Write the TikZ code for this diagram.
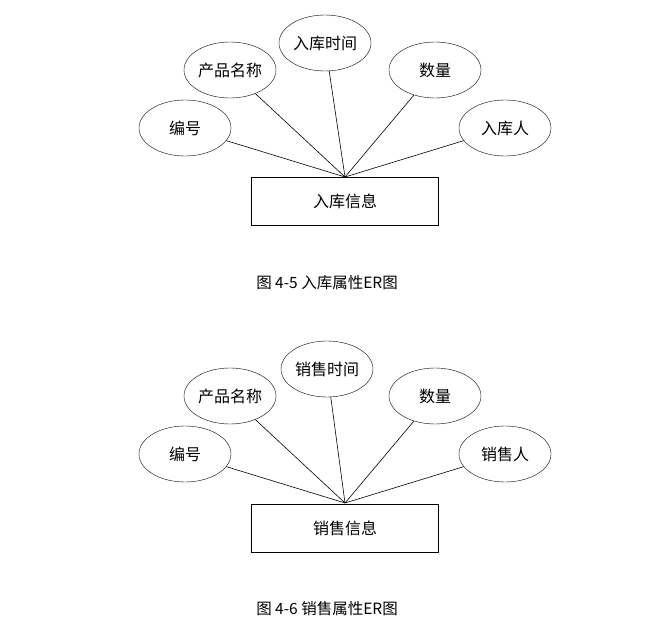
\documentclass[tikz,border=0pt]{standalone}
\usepackage{fontspec}
\setmainfont{Noto Sans CJK SC}
\usetikzlibrary{shapes.geometric}
\begin{document}
\begin{tikzpicture}[x=1pt,y=-1pt,
  attr/.style={ellipse,draw,minimum width=92pt,minimum height=56pt,inner sep=0pt,font=\fontsize{16}{19}\selectfont},
  ent/.style={rectangle,draw,minimum width=187pt,minimum height=48pt,font=\fontsize{16}{19}\selectfont},
  captxt/.style={font=\fontsize{15.5}{18}\selectfont},
  link/.style={draw,line width=0.6pt}]
\useasboundingbox (0,0) rectangle (662,634);
\node[ent] (r1) at (345,201) {入库信息};
\coordinate (c1) at (345,177);
\node[attr] (a1) at (185,128) {编号};
\node[attr] (a2) at (230,70) {产品名称};
\node[attr] (a3) at (325,43) {入库时间};
\node[attr] (a4) at (435,70) {数量};
\node[attr] (a5) at (505,128) {入库人};
\foreach \n in {a1,a2,a3,a4,a5} \draw[link] (\n) -- (c1);
\node[captxt] (t1) at (327,283) {图 4-5 入库属性ER图};
\node[ent] (r2) at (345,528) {销售信息};
\coordinate (c2) at (345,503);
\node[attr] (b1) at (185,454) {编号};
\node[attr] (b2) at (230,396) {产品名称};
\node[attr] (b3) at (327,369) {销售时间};
\node[attr] (b4) at (435,396) {数量};
\node[attr] (b5) at (505,454) {销售人};
\foreach \n in {b1,b2,b3,b4,b5} \draw[link] (\n) -- (c2);
\node[captxt] (t2) at (327,609) {图 4-6 销售属性ER图};
\end{tikzpicture}
\end{document}
